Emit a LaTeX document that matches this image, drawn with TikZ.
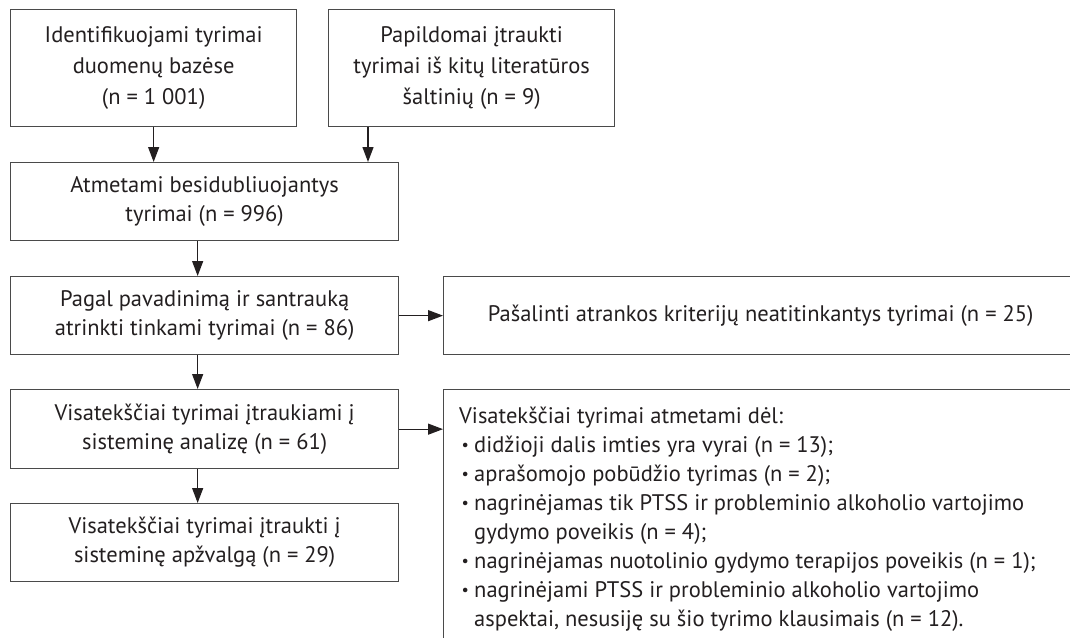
\documentclass[tikz,border=0pt]{standalone}
\usepackage{fontspec}
\usepackage{graphicx}
\setmainfont{PT Sans}
\usetikzlibrary{arrows.meta,calc}
\definecolor{txt}{HTML}{231F20}
\definecolor{ln}{HTML}{4A4A4A}
\newcommand\bul{\makebox[15pt][l]{\hspace{2.5pt}\raisebox{1.6pt}{\scalebox{0.72}{\textbullet}}}}
\begin{document}
\begin{tikzpicture}[x=1pt,y=-1pt,
  box/.style={draw=ln, line width=1.3pt, anchor=north west, inner sep=0pt, align=center, text=txt, font=\fontsize{22.5}{29}\selectfont},
  box3/.style={box, font=\fontsize{22.5}{31}\selectfont},
  arr/.style={draw=txt, line width=1.3pt, -{Triangle[length=15pt,width=11pt]}}]
\useasboundingbox (0,0) rectangle (1070,637);
\node[box3, minimum width=286, minimum height=117] (b1) at (10,9) {Identifikuojami tyrimai\\duomenų bazėse\\(n = 1 001)};
\node[box3, minimum width=286, minimum height=117] (b2) at (328,9) {Papildomai įtraukti\\tyrimai iš kitų literatūros\\šaltinių (n = 9)};
\node[box, minimum width=388, minimum height=78] (b3) at (10,162) {Atmetami besidubliuojantys\\tyrimai (n = 996)};
\node[box, minimum width=388, minimum height=78] (b4) at (10,276) {Pagal pavadinimą ir santrauką\\atrinkti tinkami tyrimai (n = 86)};
\node[box, minimum width=388, minimum height=79] (b5) at (10,389) {Visatekščiai tyrimai įtraukiami į\\sisteminę analizę (n = 61)};
\node[box, minimum width=388, minimum height=78] (b6) at (10,503) {Visatekščiai tyrimai įtraukti į\\sisteminę apžvalgą (n = 29)};
\node[box, minimum width=634, minimum height=78] (r1) at (443,276) {Pašalinti atrankos kriterijų neatitinkantys tyrimai (n = 25)};
\node[box, minimum width=700, minimum height=320] (r2) at (443,389) {};
\node[anchor=north west, inner sep=0pt, align=left, text=txt, font=\fontsize{22.5}{29}\selectfont] (r2t) at ([xshift=16pt,yshift=-13.7pt]r2.north west)
  {\strut Visatekščiai tyrimai atmetami dėl:\\
   \bul didžioji dalis imties yra vyrai (n = 13);\\
   \bul aprašomojo pobūdžio tyrimas (n = 2);\\
   \bul nagrinėjamas tik PTSS ir probleminio alkoholio vartojimo\\
   \hspace*{15pt}gydymo poveikis (n = 4);\\
   \bul nagrinėjamas nuotolinio gydymo terapijos poveikis (n = 1);\\
   \bul nagrinėjami PTSS ir probleminio alkoholio vartojimo\\
   \hspace*{15pt}aspektai, nesusiję su šio tyrimo klausimais (n = 12).};
\coordinate (a2) at ([xshift=40pt]b2.south west);
\coordinate (a3) at ([xshift=-7pt]b3.south);
\coordinate (a4) at ([xshift=-7pt]b4.south);
\coordinate (a5) at ([xshift=-7pt]b5.south);
\draw[arr] (b1.south) -- (b1.south |- b3.north);
\draw[arr] (a2) -- (a2 |- b3.north);
\draw[arr] (a3) -- (a3 |- b4.north);
\draw[arr] (a4) -- (a4 |- b5.north);
\draw[arr] (a5) -- (a5 |- b6.north);
\draw[arr] (b4.east) -- (r1.west);
\draw[arr] (b5.east) -- (b5.east -| r2.west);
\end{tikzpicture}
\end{document}
